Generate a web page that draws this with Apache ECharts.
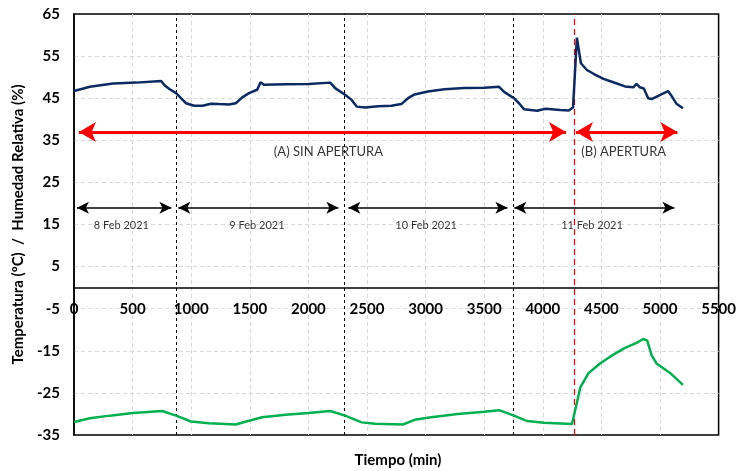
<!DOCTYPE html>
<html>
<head>
<meta charset="utf-8">
<script src="https://cdn.jsdelivr.net/npm/echarts@6/dist/echarts.min.js"></script>
<style>
html,body{margin:0;padding:0;background:#fff;}
#chart{width:739px;height:471px;}
</style>
</head>
<body>
<div id="chart"></div>
<script>
// ---- Data ----
var hrTime = [0,136,333,532,744,772,814,871,913,956,1026,1097,1168,1238,1323,1380,1436,1493,1563,1592,1620,1804,2002,2186,2228,2313,2369,2412,2483,2596,2708,2793,2850,2906,3019,3161,3330,3500,3627,3670,3754,3797,3839,3952,4023,4150,4221,4258,4291,4325,4376,4433,4518,4602,4701,4772,4800,4828,4862,4899,4928,5069,5097,5140,5196];
var hrVal = [46.7,47.7,48.5,48.7,49.1,48.1,47.2,46.2,45.0,43.8,43.2,43.2,43.7,43.6,43.5,43.8,45.2,46.2,47.0,48.8,48.2,48.3,48.4,48.7,47.4,45.8,44.6,43.0,42.8,43.1,43.2,43.6,45.0,45.9,46.6,47.1,47.4,47.5,47.7,46.5,45.0,43.8,42.4,42.0,42.5,42.2,42.1,42.8,59.4,53.3,51.7,50.8,49.6,48.8,47.8,47.6,48.4,47.6,47.3,45.0,44.8,46.7,45.6,43.7,42.6];
var tempTime = [0,136,305,503,752,871,998,1153,1380,1493,1606,1804,2002,2186,2313,2454,2567,2807,2906,3047,3274,3500,3627,3754,3867,4009,4249,4262,4277,4320,4390,4489,4574,4701,4800,4857,4891,4928,4970,5083,5196];
var tempVal = [-31.9,-31.0,-30.4,-29.8,-29.3,-30.4,-31.8,-32.2,-32.5,-31.6,-30.8,-30.2,-29.8,-29.3,-30.4,-32.0,-32.3,-32.5,-31.4,-30.8,-30.0,-29.5,-29.1,-30.4,-31.7,-32.1,-32.4,-32.4,-29.0,-23.7,-20.3,-18.0,-16.4,-14.3,-13.1,-12.2,-12.6,-16.0,-18.0,-20.2,-23.1];

var dayLines = [870, 2310, 3750];
var openLine = 4265;
var dayArrowStart = [25, 890, 2341, 3757];
var dayArrowEnd = [831, 2256, 3698, 5123];
var dayArrowY = 19;
var dayLabels = ['8 Feb 2021', '9 Feb 2021', '10 Feb 2021', '11 Feb 2021'];
var dayLabelX = [404, 1561, 3005, 4420];
var dayLabelY = 14.8;
var phaseArrowStart = [42, 4283];
var phaseArrowEnd = [4198, 5148];
var phaseArrowY = 37;
var phaseLabels = ['(A) SIN APERTURA', '(B) APERTURA'];
var phaseLabelX = [2171, 4690];
var phaseLabelY = 32.3;

var xTicks = {min: 0, max: 5500, interval: 500};
var yTicks = {min: -35, max: 65, interval: 10};

// ---- Build ----
function zip(a, b) { return a.map(function (v, i) { return [v, b[i]]; }); }
var FONT = 'Lato';
var GRID = { left: 74, right: 16, top: 14, bottom: 36 };
var plotH = 471 - GRID.top - GRID.bottom;
var zeroOffset = -plotH * (0 - yTicks.min) / (yTicks.max - yTicks.min);

function vline(x, style) {
  return [
    { coord: [x, yTicks.min], symbol: 'none', lineStyle: style },
    { coord: [x, yTicks.max], symbol: 'none' }
  ];
}
function arrow(x1, x2, y, size, style) {
  return [
    { coord: [x1, y], symbol: 'arrow', symbolSize: size, lineStyle: style },
    { coord: [x2, y], symbol: 'arrow', symbolSize: size }
  ];
}

var marks = [];
dayLines.forEach(function (x) { marks.push(vline(x, { color: '#000000', width: 1, type: [3, 3], opacity: 1 })); });
marks.push(vline(openLine, { color: '#ff0000', width: 1.2, type: [6, 4], opacity: 1 }));
dayArrowStart.forEach(function (s, i) {
  marks.push(arrow(s, dayArrowEnd[i], dayArrowY, [9, 12], { color: '#000000', width: 1.5, type: 'solid', opacity: 1 }));
});
phaseArrowStart.forEach(function (s, i) {
  marks.push(arrow(s, phaseArrowEnd[i], phaseArrowY, [15, 17], { color: '#ff0000', width: 3, type: 'solid', opacity: 1 }));
});

var textData = [];
dayLabels.forEach(function (t, i) { textData.push({ value: [dayLabelX[i], dayLabelY], name: t, label: { fontSize: 11 } }); });
phaseLabels.forEach(function (t, i) { textData.push({ value: [phaseLabelX[i], phaseLabelY], name: t, label: { fontSize: 13 } }); });

var split = { show: true, showMinLine: false, showMaxLine: false, lineStyle: { color: '#d9d9d9', type: [4, 3], width: 1 } };

var chart = echarts.init(document.getElementById('chart'), null, { renderer: 'canvas' });
chart.setOption({
  animation: false,
  backgroundColor: '#fff',
  textStyle: { fontFamily: FONT },
  grid: { left: GRID.left, right: GRID.right, top: GRID.top, bottom: GRID.bottom, show: true, borderColor: '#000', borderWidth: 1.5, backgroundColor: 'transparent' },
  xAxis: {
    type: 'value', min: xTicks.min, max: xTicks.max, interval: xTicks.interval,
    position: 'bottom', offset: zeroOffset,
    axisLine: { onZero: false, lineStyle: { color: '#000', width: 1.5 } },
    axisTick: { show: false },
    axisLabel: { color: '#000', fontWeight: 'bold', fontSize: 15, fontFamily: FONT, margin: 14, formatter: function (v) { return String(v); } },
    splitLine: split
  },
  yAxis: {
    type: 'value', min: yTicks.min, max: yTicks.max, interval: yTicks.interval,
    name: 'Temperatura (ºC)  /  Humedad Relativa (%)',
    nameLocation: 'middle', nameGap: 47, nameRotate: 90,
    nameTextStyle: { color: '#000', fontWeight: 'bold', fontSize: 15, fontFamily: FONT },
    axisLine: { show: true, lineStyle: { color: '#000', width: 1.5 } },
    axisTick: { show: false },
    axisLabel: { color: '#000', fontWeight: 'bold', fontSize: 15, fontFamily: FONT, margin: 14 },
    splitLine: split
  },
  graphic: [{
    type: 'text', x: 398, y: 460,
    style: { text: 'Tiempo (min)', font: 'bold 15px ' + FONT, fill: '#000', textAlign: 'center', textVerticalAlign: 'middle' }
  }],
  series: [
    {
      name: 'HR', type: 'line', data: zip(hrTime, hrVal), showSymbol: false, smooth: false,
      lineStyle: { color: '#0b2a62', width: 2.5 }, z: 5
    },
    {
      name: 'T', type: 'line', data: zip(tempTime, tempVal), showSymbol: false, smooth: false,
      lineStyle: { color: '#00b050', width: 2.5 }, z: 5
    },
    {
      name: 'labels', type: 'scatter', data: textData, symbolSize: 1,
      itemStyle: { color: 'transparent' }, silent: true, z: 6,
      label: { show: true, position: 'inside', color: '#000', fontFamily: FONT, formatter: function (p) { return p.name; } },
      markLine: { silent: true, animation: false, symbol: ['none', 'none'], label: { show: false },
        emphasis: { disabled: true }, data: marks }
    }
  ]
});
</script>
</body>
</html>
